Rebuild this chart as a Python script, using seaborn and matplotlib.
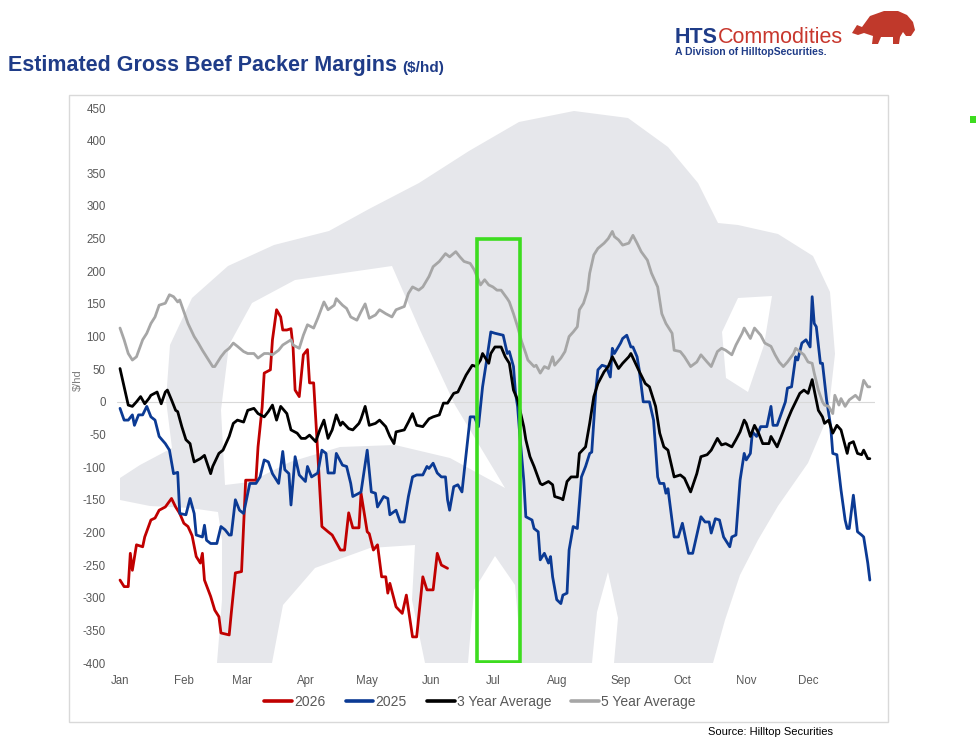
import pandas as pd
import matplotlib
matplotlib.use("Agg")
import matplotlib.pyplot as plt
import matplotlib.dates as mdates
from matplotlib.patches import Polygon, Rectangle
import seaborn as sns

# days counted from Jan 1, values in $/hd
days_2026 = [0, 2, 4, 5, 6, 8, 11, 12, 15, 17, 19, 22, 25, 27, 29, 31, 33, 35, 37, 39,
             40, 41, 44, 46, 48, 49, 53, 54, 56, 59, 61, 66, 67, 69, 70, 73, 74, 76, 78, 79,
             81, 83, 84, 85, 87, 89, 91, 92, 94, 96, 98, 101, 103, 107, 109, 111, 113, 116, 117, 120,
             121, 123, 125, 127, 129, 130, 131, 134, 137, 139, 142, 144, 147, 149, 152, 154, 156, 159]
vals_2026 = [-273, -283, -283, -232, -258, -219, -222, -207, -181, -178, -166, -161, -148, -161, -171, -186, -191, -205, -237, -247,
             -232, -273, -298, -319, -329, -354, -357, -324, -262, -260, -120, -120, -69, -8, 44, 49, 95, 141, 130, 110,
             110, 112, 84, 18, 8, 72, 80, 29, 29, -79, -191, -199, -204, -227, -227, -170, -193, -193, -140, -199,
             -202, -227, -219, -268, -268, -293, -278, -314, -324, -296, -360, -360, -268, -288, -288, -232, -250, -255]

days_2025 = [0, 2, 4, 6, 7, 9, 11, 13, 15, 17, 19, 22, 24, 26, 28, 29, 32, 34, 36, 37,
             40, 41, 42, 44, 47, 49, 51, 53, 54, 56, 58, 60, 62, 63, 66, 68, 70, 72, 74, 77,
             79, 80, 82, 83, 85, 87, 90, 91, 93, 96, 98, 100, 101, 104, 105, 108, 110, 112, 113, 116,
             117, 120, 122, 124, 125, 128, 130, 131, 134, 136, 138, 140, 142, 144, 147, 149, 150, 152, 154, 156,
             158, 159, 160, 162, 164, 166, 168, 170, 172, 174, 176, 178, 180, 182, 186, 188, 189, 191, 192, 193,
             194, 196, 197, 200, 201, 203, 204, 206, 208, 209, 210, 212, 214, 215, 217, 218, 220, 222, 224, 226,
             228, 229, 231, 232, 234, 236, 238, 239, 240, 243, 244, 246, 248, 249, 251, 252, 254, 257, 259, 261,
             262, 264, 265, 266, 269, 271, 273, 274, 276, 278, 282, 284, 286, 287, 289, 291, 293, 294, 296, 297,
             299, 301, 303, 304, 306, 307, 309, 311, 314, 316, 317, 319, 321, 323, 324, 326, 328, 329, 331, 333,
             335, 336, 337, 338, 340, 341, 343, 345, 346, 348, 350, 352, 353, 354, 356, 358, 360, 361, 363, 364]
vals_2025 = [-10, -28, -28, -20, -36, -20, -20, -7, -23, -28, -53, -64, -74, -110, -108, -171, -173, -148, -171, -204,
             -207, -189, -212, -217, -217, -191, -196, -204, -204, -150, -166, -171, -140, -125, -125, -115, -89, -92, -110, -125,
             -76, -104, -110, -158, -84, -112, -122, -99, -115, -109, -74, -79, -109, -109, -79, -97, -99, -125, -145, -140,
             -138, -74, -138, -140, -161, -145, -148, -173, -166, -184, -184, -145, -115, -112, -112, -99, -102, -94, -109, -115,
             -115, -150, -166, -130, -127, -138, -80, -23, -23, -38, 23, 64, 107, 105, 102, 74, 77, 54, 13, -7,
             -48, -120, -176, -181, -194, -199, -242, -232, -247, -237, -268, -303, -309, -296, -293, -227, -191, -194, -115, -99,
             -79, -77, 18, 49, 56, 54, 38, 82, 74, 90, 97, 102, 84, 84, 69, 50, 0, 0, -28, -115,
             -125, -125, -140, -133, -207, -207, -186, -201, -232, -232, -176, -184, -184, -201, -179, -181, -207, -212, -222, -207,
             -204, -120, -79, -89, -79, -46, -53, -38, -38, -7, -36, -36, -18, 0, 21, 23, 69, 64, 90, 95,
             84, 161, 120, 115, 59, 59, 3, -38, -79, -81, -135, -181, -194, -194, -143, -199, -204, -207, -247, -273]

days_3yr = [0, 2, 4, 6, 8, 10, 12, 14, 15, 18, 20, 22, 23, 25, 27, 28, 30, 32, 34, 35,
            36, 39, 41, 44, 45, 48, 50, 53, 55, 57, 60, 62, 65, 67, 70, 72, 74, 76, 78, 81,
            83, 86, 88, 90, 92, 95, 97, 99, 101, 103, 105, 107, 108, 111, 113, 116, 117, 119, 121, 124,
            126, 129, 131, 133, 134, 138, 140, 142, 144, 147, 150, 152, 155, 157, 159, 162, 164, 166, 168, 171,
            173, 175, 176, 179, 180, 182, 185, 187, 189, 191, 193, 196, 197, 199, 201, 204, 205, 208, 210, 211,
            214, 215, 217, 219, 222, 223, 226, 228, 230, 232, 235, 237, 239, 242, 244, 247, 248, 251, 252, 255,
            257, 260, 262, 264, 266, 269, 272, 274, 277, 280, 282, 285, 287, 290, 292, 294, 297, 299, 301, 303,
            304, 306, 308, 310, 312, 315, 316, 319, 321, 324, 326, 328, 330, 332, 334, 336, 337, 339, 341, 342,
            344, 346, 348, 350, 353, 354, 356, 358, 360, 361, 363, 364]
vals_3yr = [51, 23, -5, -7, 0, 8, -3, 5, 10, 15, -3, 15, 18, 3, -13, -15, -38, -58, -64, -79,
            -92, -87, -82, -110, -99, -79, -74, -53, -33, -28, -31, -13, -10, -18, -23, -15, -5, -28, -7, -18,
            -43, -48, -56, -56, -51, -61, -43, -28, -56, -43, -20, -36, -31, -41, -43, -33, -26, -7, -36, -33,
            -28, -38, -53, -64, -46, -43, -31, -18, -36, -38, -26, -23, -20, -2, -2, 13, 15, 28, 41, 56,
            54, 64, 74, 59, 74, 84, 84, 69, 59, 18, 3, -38, -58, -84, -99, -125, -127, -122, -127, -145,
            -148, -150, -122, -115, -115, -79, -69, -33, 8, 28, 46, 54, 69, 51, 59, 69, 74, 54, 47, 28,
            23, -7, -48, -69, -74, -115, -112, -117, -138, -110, -84, -81, -74, -56, -66, -64, -69, -58, -46, -28,
            -33, -53, -36, -48, -64, -64, -53, -69, -53, -28, -13, 0, 13, 18, 13, 34, 18, -13, -23, -33,
            -28, -48, -36, -43, -79, -64, -61, -79, -81, -74, -87, -87]

days_5yr = [0, 2, 4, 6, 8, 11, 13, 15, 17, 19, 22, 24, 26, 28, 29, 31, 33, 36, 38, 40,
            43, 45, 46, 49, 51, 53, 55, 57, 60, 62, 65, 67, 70, 72, 74, 77, 79, 83, 84, 87,
            89, 91, 94, 96, 99, 101, 104, 105, 108, 110, 112, 115, 117, 119, 121, 124, 126, 129, 132, 134,
            138, 140, 142, 145, 147, 150, 152, 155, 158, 160, 163, 165, 167, 170, 172, 175, 177, 179, 181, 183,
            185, 188, 189, 191, 193, 195, 197, 198, 201, 202, 204, 206, 208, 210, 211, 214, 216, 218, 220, 222,
            223, 225, 227, 228, 230, 232, 235, 237, 239, 240, 242, 244, 247, 249, 251, 253, 256, 258, 261, 263,
            265, 268, 269, 272, 274, 277, 280, 282, 285, 287, 290, 292, 294, 297, 299, 302, 303, 306, 308, 311,
            313, 316, 318, 320, 322, 324, 327, 328, 330, 332, 334, 336, 337, 339, 341, 342, 344, 346, 347, 349,
            350, 352, 354, 357, 359, 360, 361, 363, 364]
vals_5yr = [113, 95, 74, 64, 69, 95, 105, 120, 130, 148, 151, 164, 161, 153, 156, 138, 120, 100, 90, 79,
            64, 54, 54, 69, 77, 82, 90, 85, 77, 74, 74, 67, 74, 74, 72, 79, 87, 95, 87, 82,
            102, 118, 113, 128, 153, 141, 148, 158, 148, 143, 130, 125, 138, 150, 128, 133, 141, 135, 130, 141,
            146, 166, 176, 171, 176, 192, 207, 215, 227, 222, 230, 222, 215, 212, 202, 179, 187, 179, 176, 171,
            171, 158, 153, 135, 115, 92, 74, 64, 54, 56, 44, 54, 51, 69, 56, 67, 77, 100, 107, 115,
            141, 151, 171, 197, 225, 235, 243, 250, 261, 253, 248, 240, 243, 255, 243, 230, 217, 197, 176, 135,
            120, 105, 79, 77, 69, 54, 61, 72, 61, 54, 77, 82, 79, 72, 87, 105, 113, 97, 113, 102,
            90, 85, 72, 61, 54, 61, 74, 82, 77, 72, 61, 59, 44, 18, 0, -5, -7, -18, 10, -5,
            5, -7, 3, 10, 3, 18, 33, 23, 23]

series_names = ["2026", "2025", "3 Year Average", "5 Year Average"]
series_colors = ["#c00000", "#0b3a94", "#000000", "#a6a6a6"]
series_days = [days_2026, days_2025, days_3yr, days_5yr]
series_vals = [vals_2026, vals_2025, vals_3yr, vals_5yr]
month_labels = ["Jan", "Feb", "Mar", "Apr", "May", "Jun",
                "Jul", "Aug", "Sep", "Oct", "Nov", "Dec"]

# green highlight box (day offsets / $ per head)
box_start, box_end = 173.3, 194.2
box_low, box_high = -398, 250

base = pd.Timestamp("2025-01-01")
frames = []
for name, d, v in zip(series_names, series_days, series_vals):
    assert len(d) == len(v), name
    frames.append(pd.DataFrame({"date": base + pd.to_timedelta(d, unit="D"),
                                "value": v, "series": name}))
df = pd.concat(frames, ignore_index=True)

sns.set_style("white")
plt.rcParams["font.family"] = ["Liberation Sans", "DejaVu Sans"]
plt.rcParams["axes.unicode_minus"] = False
navy = "#1f3c88"
grey_txt = "#595959"
mark = "#e6e7eb"

W, H = 977, 743
fig = plt.figure(figsize=(W / 100, H / 100), dpi=100)

# background layer in pixel coordinates: frame, watermark, logo
bg = fig.add_axes([0, 0, 1, 1], zorder=0)
bg.set_xlim(0, W)
bg.set_ylim(H, 0)
bg.axis("off")
bg.add_patch(Rectangle((69, 95), 819, 627, fill=False, edgecolor="#d9d9d9", lw=1))

body = [(217, 663), (222, 600), (222, 540), (218, 512), (190, 508), (150, 506), (120, 500), (120, 478),
        (140, 465), (172, 448), (166, 400), (170, 345), (192, 298), (228, 266), (274, 245), (329, 231),
        (369, 209), (419, 183), (469, 151), (519, 122), (574, 111), (628, 118), (668, 147), (698, 183),
        (718, 223), (738, 225), (778, 234), (813, 256), (830, 292), (835, 354), (828, 416), (808, 463),
        (778, 506), (758, 540), (740, 575), (725, 620), (713, 663)]
cutouts = [
    [(225, 485), (221, 410), (229, 345), (252, 303), (295, 280), (392, 266), (420, 330), (455, 405),
     (505, 488), (450, 458), (395, 445), (340, 447), (290, 462), (250, 482)],
    [(272, 663), (283, 605), (315, 568), (370, 548), (415, 545), (412, 600), (425, 663)],
    [(468, 663), (474, 590), (495, 556), (515, 585), (522, 663)],
    [(592, 663), (597, 612), (608, 572), (618, 618), (614, 663)],
    [(738, 298), (772, 296), (764, 345), (748, 392), (726, 378), (722, 332)],
]
bg.add_patch(Polygon(body, closed=True, facecolor=mark, edgecolor="none"))
for c in cutouts:
    bg.add_patch(Polygon(c, closed=True, facecolor="white", edgecolor="none"))

bison = [(852, 33), (857, 25), (862, 27), (870, 16), (884, 11), (898, 11), (907, 15), (913, 22),
         (915, 30), (911, 36), (906, 36), (903, 32), (900, 37), (899, 44), (893, 44), (893, 37),
         (881, 37), (878, 44), (872, 44), (873, 36), (864, 33), (858, 35)]
bg.add_patch(Polygon(bison, closed=True, facecolor="#c0392b", edgecolor="none"))
bg.add_patch(Rectangle((970, 116), 6, 7, facecolor="#3ddc1f", edgecolor="none"))

# main chart
ax = fig.add_axes([117 / W, 1 - 663 / H, (875 - 117) / W, (663 - 108) / H], zorder=1)
ax.patch.set_alpha(0)
ax.axhline(0, color="#d9d9d9", lw=0.8, zorder=1)
sns.lineplot(data=df, x="date", y="value", hue="series", hue_order=series_names,
             palette=series_colors, linewidth=2.0, estimator=None, ax=ax, zorder=3)

x0 = mdates.date2num(base)
ax.set_xlim(x0 - 1.46, x0 + 366.5)
ax.set_ylim(-400, 450)
ax.set_yticks(range(-400, 451, 50))
month_starts = pd.date_range(base, periods=12, freq="MS")
ax.set_xticks(mdates.date2num(month_starts))
ax.set_xticklabels(month_labels)
ax.tick_params(axis="both", length=0, colors=grey_txt, labelsize=8.3)
ax.tick_params(axis="x", pad=8.5)
ax.tick_params(axis="y", pad=8)
ax.set_xlabel("")
ax.set_ylabel("")
sns.despine(ax=ax, left=True, bottom=True)

ax.add_patch(Rectangle((x0 + box_start, box_low), box_end - box_start, box_high - box_low,
                       fill=False, edgecolor="#3ddc1f", lw=2.6, zorder=4))

sns.move_legend(ax, "center", bbox_to_anchor=((480 - 117) / 758, (663 - 702) / 555),
                ncol=4, frameon=False, title=None, fontsize=10, handlelength=2.0,
                handletextpad=0.15, columnspacing=1.45, labelcolor=grey_txt)
for line in ax.get_legend().get_lines():
    line.set_linewidth(2.6)

fig.text(78 / W, 1 - 380 / H, r"\$/hd", rotation=90, color="#7f7f7f", fontsize=8,
         ha="center", va="center")

# titles and branding
title = fig.text(8 / W, 1 - 71 / H, "Estimated Gross Beef Packer Margins", color=navy,
                 fontsize=15.5, fontweight="bold", va="baseline")
fig.canvas.draw()
ax.annotate(r"(\$/hd)", xy=(1, 0), xycoords=title, xytext=(4, 1), textcoords="offset points",
            color=navy, fontsize=11, fontweight="bold", va="bottom", annotation_clip=False)
hts = fig.text(675 / W, 1 - 43 / H, "HTS", color=navy, fontsize=15.5, fontweight="bold",
               va="baseline")
ax.annotate("Commodities", xy=(1, 0), xycoords=hts, xytext=(0, 0), textcoords="offset points",
            color="#c8372d", fontsize=15.5, va="bottom", annotation_clip=False)
fig.text(675 / W, 1 - 55 / H, "A Division of HilltopSecurities.", color=navy, fontsize=7.5,
         fontweight="bold", va="baseline")
fig.text(833 / W, 1 - 732 / H, "Source: Hilltop Securities", color="black", fontsize=8,
         ha="right", va="center")

fig.savefig("out.png", dpi=100, facecolor="white")
